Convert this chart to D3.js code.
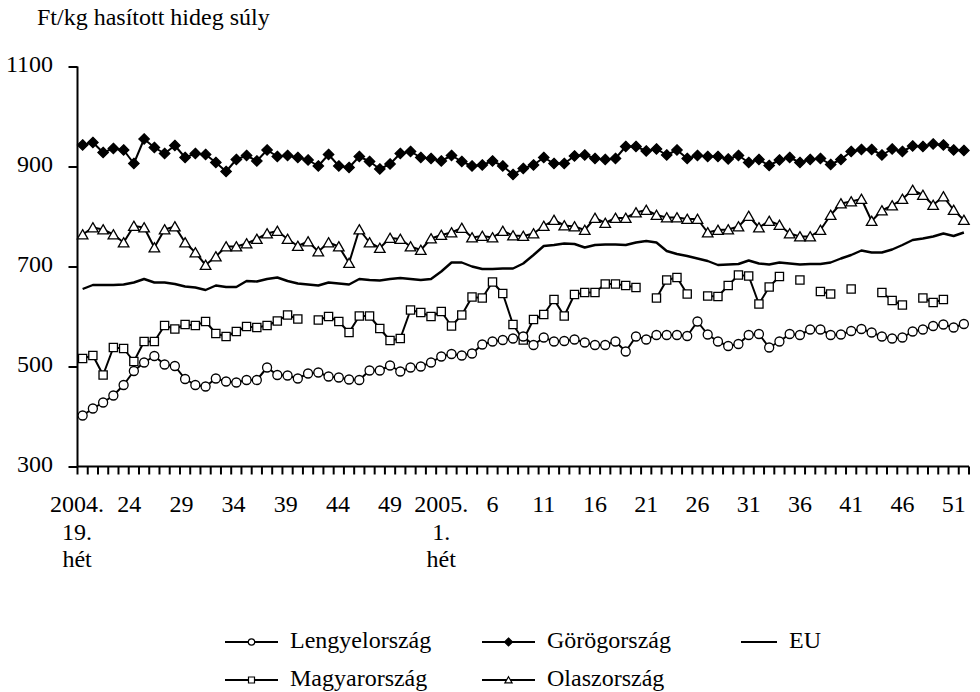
<!DOCTYPE html>
<html>
<head>
<meta charset="utf-8">
<script src="https://cdn.jsdelivr.net/npm/d3@7"></script>
<style>
  html, body { margin: 0; padding: 0; background: #fff; }
  svg { display: block; }
  text { font-family: "Liberation Serif", "Times New Roman", "DejaVu Serif", serif; fill: #000; }
</style>
</head>
<body>
<svg id="chart" width="980" height="692" font-family="Liberation Serif, Times New Roman, serif"></svg>
<script>
// ---------------- DATA ----------------
const categories = [
  "2004-19","2004-20","2004-21","2004-22","2004-23","2004-24","2004-25","2004-26","2004-27","2004-28",
  "2004-29","2004-30","2004-31","2004-32","2004-33","2004-34","2004-35","2004-36","2004-37","2004-38",
  "2004-39","2004-40","2004-41","2004-42","2004-43","2004-44","2004-45","2004-46","2004-47","2004-48",
  "2004-49","2004-50","2004-51","2004-52","2004-53",
  "2005-1","2005-2","2005-3","2005-4","2005-5","2005-6","2005-7","2005-8","2005-9","2005-10",
  "2005-11","2005-12","2005-13","2005-14","2005-15","2005-16","2005-17","2005-18","2005-19","2005-20",
  "2005-21","2005-22","2005-23","2005-24","2005-25","2005-26","2005-27","2005-28","2005-29","2005-30",
  "2005-31","2005-32","2005-33","2005-34","2005-35","2005-36","2005-37","2005-38","2005-39","2005-40",
  "2005-41","2005-42","2005-43","2005-44","2005-45","2005-46","2005-47","2005-48","2005-49","2005-50",
  "2005-51","2005-52"
];

const tickLabelCats = ["2004-19","2004-24","2004-29","2004-34","2004-39","2004-44","2004-49",
  "2005-1","2005-6","2005-11","2005-16","2005-21","2005-26","2005-31","2005-36","2005-41","2005-46","2005-51"];
const tickLabelLines = [["2004.","19.","hét"],["24"],["29"],["34"],["39"],["44"],["49"],
  ["2005.","1.","hét"],["6"],["11"],["16"],["21"],["26"],["31"],["36"],["41"],["46"],["51"]];

const yTicks = [300, 500, 700, 900, 1100];
const yTitle = "Ft/kg hasított hideg súly";

const lengyel = [402,416,428,442,463,491,508,521,504,501,475,463,460,476,470,468,473,473,498,483,
  482,476,486,488,480,478,474,473,492,492,502,490,498,500,508,520,525,522,526,544,
  550,553,556,560,543,558,550,551,554,548,543,543,550,530,560,554,563,563,563,561,
  590,564,550,541,545,563,565,538,550,565,563,574,574,563,564,571,575,568,560,556,
  558,570,574,581,584,578,585];

const magyar = [516,522,483,538,536,510,550,550,582,575,584,582,590,566,560,570,580,578,582,591,
  603,595,null,593,600,590,568,601,601,576,552,556,613,608,600,610,581,603,639,637,
  669,646,584,553,594,604,634,601,644,648,648,665,665,662,658,null,637,673,678,645,
  null,641,640,662,683,681,625,659,680,null,673,null,650,645,null,655,null,null,648,632,
  623,null,637,628,634,null,null];

const gorog = [943,948,928,936,933,906,955,938,926,942,918,926,924,908,890,914,922,911,933,920,
  922,918,913,901,924,901,898,920,910,895,905,926,930,918,916,911,922,910,901,903,
  911,901,884,896,903,918,906,906,921,923,916,914,916,940,940,931,935,923,933,916,
  922,920,920,915,922,908,914,902,913,918,908,914,916,904,914,930,934,934,923,935,
  930,941,940,945,943,933,932];

const olasz = [764,778,774,764,748,781,778,738,774,780,748,728,703,720,740,740,746,755,766,771,
  755,741,750,730,748,740,707,774,748,737,757,755,740,733,756,763,768,777,758,761,
  758,771,762,761,766,781,793,782,780,773,797,787,797,797,808,813,803,798,798,795,
  795,768,773,774,780,801,778,791,783,766,760,760,773,803,826,830,835,791,812,822,
  835,853,843,823,840,813,793];

const eu = [655,663,663,663,664,668,675,668,668,665,660,658,653,662,659,659,671,670,675,678,
  671,666,664,662,668,666,664,675,673,672,675,677,675,673,675,690,708,708,700,695,
  695,696,696,706,723,741,743,746,745,738,743,744,744,743,748,751,748,731,725,721,
  716,711,703,704,705,712,706,704,708,706,704,705,705,708,716,723,732,728,728,734,
  743,753,756,760,766,761,768];

const seriesNames = ["Lengyelország","Görögország","EU","Magyarország","Olaszország"];

// ---------------- CHART ----------------
const svg = d3.select("#chart");
svg.append("rect").attr("width", 980).attr("height", 692).attr("fill", "#fff");

const x = d3.scaleBand().domain(categories).range([77.5, 969]).padding(0);
const y = d3.scaleLinear().domain([300, 1100]).range([466.5, 66.5]);
const cx = c => x(c) + x.bandwidth() / 2;

const FS = 24;
const FF = "Liberation Serif, Times New Roman, serif";

// Title
svg.append("text").attr("x", 37).attr("y", 25).attr("font-size", FS).attr("font-family", FF).text(yTitle);

// Y axis
const yAxis = d3.axisLeft(y).tickValues(yTicks).tickSize(9).tickPadding(0).tickFormat(d3.format("d"));
const gy = svg.append("g").attr("transform", "translate(77.5,0)").call(yAxis);
gy.attr("font-family", FF);
gy.select(".domain").attr("stroke", "#000").attr("stroke-width", 2).attr("d", "M0,66.5V466.5");
gy.selectAll(".tick line").attr("stroke", "#000").attr("stroke-width", 2);
gy.selectAll(".tick text").attr("x", -24.5).attr("dy", null).attr("y", 5)
  .attr("font-size", FS).attr("font-family", FF).attr("fill", "#000");

// X axis (category ticks at band boundaries)
const gx = svg.append("g");
gx.append("line").attr("x1", x.range()[0]).attr("x2", x.range()[1])
  .attr("y1", y(300)).attr("y2", y(300)).attr("stroke", "#000").attr("stroke-width", 2);
const boundaries = categories.map(c => x(c)).concat([x.range()[1]]);
gx.selectAll("line.tk").data(boundaries).enter().append("line").attr("class", "tk")
  .attr("x1", d => d).attr("x2", d => d).attr("y1", y(300)).attr("y2", y(300) + 8)
  .attr("stroke", "#000").attr("stroke-width", 2);

const lineYs = [512, 540, 567];
tickLabelCats.forEach((c, i) => {
  const idx = categories.indexOf(c);
  const shift = -5.5 * Math.max(0, 1 - idx / 30);
  tickLabelLines[i].forEach((t, j) => {
    gx.append("text").attr("x", cx(c) + shift).attr("y", lineYs[j])
      .attr("text-anchor", "middle").attr("font-size", FS).attr("font-family", FF).text(t);
  });
});

// Markers
const markerPath = {
  circle: r => `M${-r},0a${r},${r} 0 1,0 ${2*r},0a${r},${r} 0 1,0 ${-2*r},0Z`,
  square: s => `M${-s},${-s}H${s}V${s}H${-s}Z`,
  diamond: s => `M0,${-s}L${s},0L0,${s}L${-s},0Z`,
  triangle: s => `M0,${-s}L${s*1.1},${s*0.9}L${-s*1.1},${s*0.9}Z`
};

function drawSeries(values, marker, size, fill, lw) {
  const pts = categories.map((c, i) => ({c, v: values[i]}));
  const line = d3.line().defined(d => d.v != null).x(d => cx(d.c)).y(d => y(d.v));
  svg.append("path").datum(pts).attr("d", line).attr("fill", "none")
    .attr("stroke", "#000").attr("stroke-width", lw).attr("stroke-linejoin", "round");
  if (marker) {
    svg.append("g").selectAll("path").data(pts.filter(d => d.v != null)).enter().append("path")
      .attr("transform", d => `translate(${cx(d.c)},${y(d.v)})`)
      .attr("d", markerPath[marker](size))
      .attr("fill", fill).attr("stroke", "#000").attr("stroke-width", 1.3);
  }
}

drawSeries(eu, null, 0, null, 2.4);
drawSeries(gorog, "diamond", 5.2, "#000", 2);
drawSeries(olasz, "triangle", 4.8, "#fff", 2);
drawSeries(magyar, "square", 4.1, "#fff", 2);
drawSeries(lengyel, "circle", 4.5, "#fff", 2);

// Legend
const legendItems = [
  {name: seriesNames[0], marker: "circle", size: 3.2, fill: "#fff", lx: 225, ly: 642, len: 53},
  {name: seriesNames[1], marker: "diamond", size: 4, fill: "#000", lx: 482, ly: 642, len: 53},
  {name: seriesNames[2], marker: null, lx: 741, ly: 642, len: 36},
  {name: seriesNames[3], marker: "square", size: 3, fill: "#fff", lx: 225, ly: 680, len: 53},
  {name: seriesNames[4], marker: "triangle", size: 3.3, fill: "#fff", lx: 482, ly: 680, len: 53}
];
const lg = svg.append("g");
legendItems.forEach(it => {
  lg.append("line").attr("x1", it.lx).attr("x2", it.lx + it.len).attr("y1", it.ly).attr("y2", it.ly)
    .attr("stroke", "#000").attr("stroke-width", 2);
  if (it.marker) {
    lg.append("path").attr("transform", `translate(${it.lx + it.len / 2},${it.ly})`)
      .attr("d", markerPath[it.marker](it.size)).attr("fill", it.fill)
      .attr("stroke", "#000").attr("stroke-width", 1.2);
  }
  lg.append("text").attr("x", it.lx + it.len + 12).attr("y", it.ly + 5.5)
    .attr("font-size", FS).attr("font-family", FF).text(it.name);
});
</script>
</body>
</html>
